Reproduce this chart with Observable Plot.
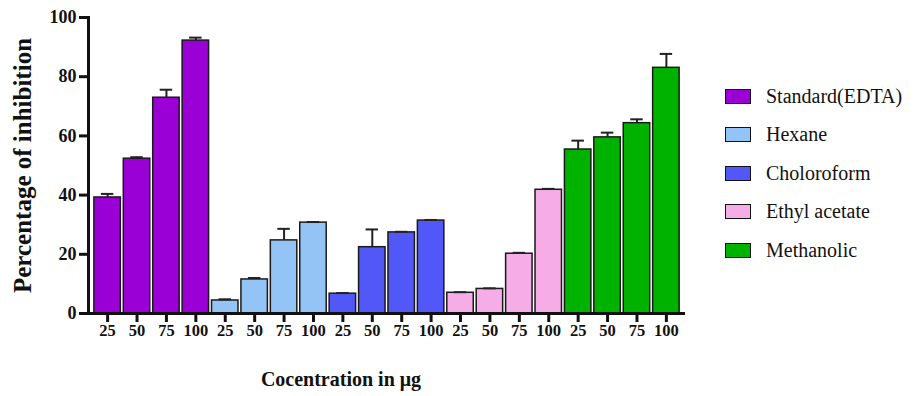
<!DOCTYPE html>
<html><head><meta charset="utf-8">
<script src="https://cdn.jsdelivr.net/npm/d3@7"></script>
<script src="https://cdn.jsdelivr.net/npm/@observablehq/plot@0.6"></script>
<style>
body{margin:0;background:#fff;}
#wrap{position:relative;width:919px;height:396px;overflow:hidden;font-family:"Liberation Serif","Times New Roman",serif;}
#chart{position:absolute;left:0;top:0;}
#chart svg text{font-family:"Liberation Serif","Times New Roman",serif !important;font-weight:bold !important;}
#legend{position:absolute;left:725px;top:77px;}
.item{display:flex;align-items:center;height:38.5px;font-size:20px;color:#111;}
.sw{width:26px;height:15px;border:1.5px solid #111;margin-right:15px;box-sizing:border-box;}
</style></head><body>
<div id="wrap"><div id="chart"></div><div id="legend"></div></div>
<script>
const series = ["Standard(EDTA)", "Hexane", "Choloroform", "Ethyl acetate", "Methanolic"];
const concentrations = ["25", "50", "75", "100"];
const colors = ["#9A00D6", "#94C3F6", "#5257F8", "#F6ACE6", "#00B200"];
const standardValues = [39.2, 52.3, 72.9, 92.2];
const standardErrors = [1.2, 0.5, 2.7, 1.0];
const hexaneValues = [4.4, 11.5, 24.7, 30.7];
const hexaneErrors = [0.4, 0.5, 3.9, 0.2];
const chloroformValues = [6.7, 22.4, 27.4, 31.4];
const chloroformErrors = [0.2, 6.0, 0.2, 0.2];
const ethylValues = [7.0, 8.3, 20.2, 41.8];
const ethylErrors = [0.2, 0.2, 0.3, 0.3];
const methanolicValues = [55.4, 59.5, 64.3, 83.0];
const methanolicErrors = [3.0, 1.6, 1.3, 4.7];
const yTicks = [0, 20, 40, 60, 80, 100];
const xTitle = "Cocentration in μg";
const yTitle = "Percentage of inhibition";

const valueSets = [standardValues, hexaneValues, chloroformValues, ethylValues, methanolicValues];
const errorSets = [standardErrors, hexaneErrors, chloroformErrors, ethylErrors, methanolicErrors];
const data = [];
series.forEach((s, si) => concentrations.forEach((c, ci) => {
  data.push({key: s + "|" + c, series: s, conc: c, value: valueSets[si][ci], err: errorSets[si][ci]});
}));

const serif = "'Liberation Serif','Times New Roman',serif";
const chart = Plot.plot({
  width: 700, height: 396,
  marginLeft: 88, marginRight: 15, marginTop: 17, marginBottom: 83,
  style: {fontFamily: serif, fontWeight: "bold", color: "#111", background: "#fff"},
  x: {domain: data.map(d => d.key), paddingInner: 0.1, paddingOuter: 0.2, round: false},
  y: {domain: [0, 100]},
  color: {domain: series, range: colors},
  marks: [
    Plot.barY(data, {x: "key", y: "value", fill: "series", stroke: "#1a1a1a", strokeWidth: 1.5}),
    Plot.ruleX(data, {x: "key", y1: "value", y2: d => d.value + d.err, stroke: "#222", strokeWidth: 2}),
    Plot.tickY(data, {x: "key", y: d => d.value + d.err, stroke: "#222", strokeWidth: 2, insetLeft: 7, insetRight: 7}),
    Plot.axisY({ticks: yTicks, tickSize: 9, tickPadding: 3, strokeWidth: 3, stroke: "#111", fill: "#111", fontSize: 18, fontFamily: serif, fontWeight: "bold", label: null}),
    Plot.axisX({tickSize: 9, tickPadding: 2, strokeWidth: 3, stroke: "#111", fill: "#111", fontSize: 16.5, fontFamily: serif, fontWeight: "bold", label: null, tickFormat: d => d.split("|")[1]}),
    Plot.frame({anchor: "left", stroke: "#111", strokeWidth: 3}),
    Plot.ruleY([0], {stroke: "#111", strokeWidth: 3}),
    Plot.text([yTitle], {frameAnchor: "left", rotate: -90, dx: -66, textAnchor: "middle", fontSize: 25, fontWeight: "bold", fontFamily: serif, fill: "#111"}),
    Plot.text([xTitle], {frameAnchor: "bottom", dy: 72, dx: -46, textAnchor: "middle", fontSize: 20, fontWeight: "bold", fontFamily: serif, fill: "#111"})
  ]
});
document.getElementById("chart").appendChild(chart);

const legend = document.getElementById("legend");
series.forEach((s, i) => {
  const item = document.createElement("div");
  item.className = "item";
  const sw = document.createElement("span");
  sw.className = "sw";
  sw.style.background = colors[i];
  const label = document.createElement("span");
  label.textContent = s;
  item.appendChild(sw);
  item.appendChild(label);
  legend.appendChild(item);
});
</script>
</body></html>
